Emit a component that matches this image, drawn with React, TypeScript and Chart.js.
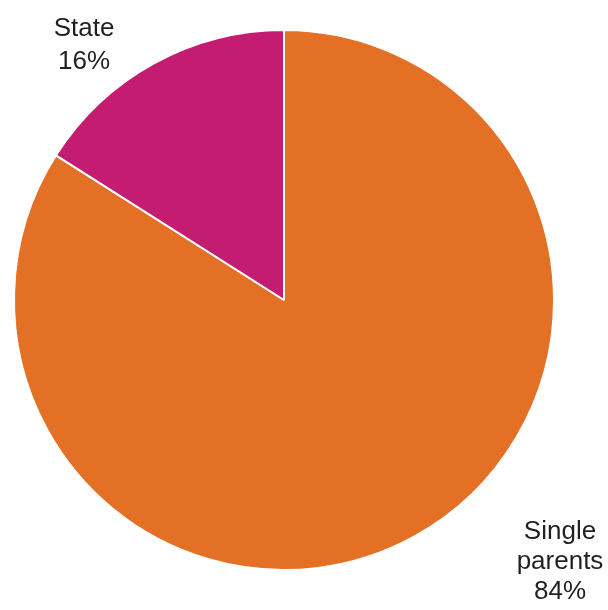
import React, { useEffect, useRef } from "react";
import { Chart, registerables } from "chart.js";

Chart.register(...registerables);

const categories = ["Single parents", "State"];
const values = [84, 16];
const labelLines = [["Single", "parents", "84%"], ["State", "16%"]];
const colors = ["#E37025", "#C41C70"];

export default function App() {
  const ref = useRef<HTMLCanvasElement>(null);
  useEffect(() => {
    document.body.style.margin = "0";
    const labelPlugin = {
      id: "sliceLabels",
      afterDraw(chart: any) {
        const ctx = chart.ctx;
        const arc = chart.getDatasetMeta(0).data[0];
        const cx = arc.x;
        const cy = arc.y;
        // anchor (centre x, first baseline y) offsets from pie centre for each slice label
        const anchors = [
          { dx: 276, dy: 239, lh: 30 },
          { dx: -200, dy: -264, lh: 33 },
        ];
        ctx.save();
        ctx.fillStyle = "#231f20";
        ctx.font = "26px 'Liberation Sans', Arial, sans-serif";
        ctx.textAlign = "center";
        ctx.textBaseline = "alphabetic";
        labelLines.forEach((lines, i) => {
          const a = anchors[i];
          lines.forEach((t, j) => {
            ctx.fillText(t, cx + a.dx, cy + a.dy + j * a.lh);
          });
        });
        ctx.restore();
      },
    };
    const chart = new Chart(ref.current!, {
      type: "pie",
      data: {
        labels: categories,
        datasets: [
          {
            data: values,
            backgroundColor: colors,
            borderColor: "#ffffff",
            borderWidth: 2,
          },
        ],
      },
      options: {
        responsive: false,
        animation: false,
        layout: { padding: { left: 13, right: 53, top: 29, bottom: 39 } },
        plugins: {
          legend: { display: false },
          tooltip: { enabled: false },
        },
      },
      plugins: [labelPlugin],
    });
    return () => chart.destroy();
  }, []);
  return (
    <div style={{ position: "absolute", left: 0, top: 0, width: 608, height: 610, background: "#fff" }}>
      <canvas ref={ref} width={608} height={610} />
    </div>
  );
}
